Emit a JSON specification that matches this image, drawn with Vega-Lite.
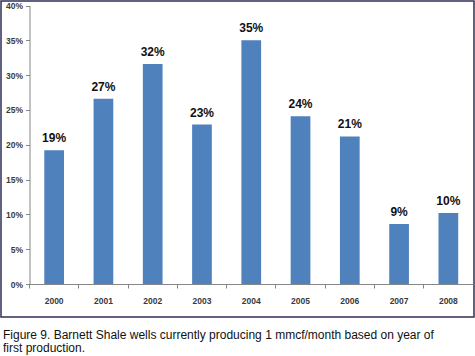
{
  "$schema": "https://vega.github.io/schema/vega-lite/v6.json",
  "width": 473,
  "height": 316,
  "autosize": "none",
  "padding": {"left": 1, "top": 1, "right": 1, "bottom": 39},
  "background": "white",
  "config": {
    "view": {"stroke": "#2E2E5C", "strokeWidth": 1.5},
    "font": "Liberation Sans"
  },
  "title": {
    "text": ["Figure 9. Barnett Shale wells currently producing 1 mmcf/month based on year of", "first production."],
    "orient": "bottom",
    "anchor": "start",
    "frame": "group",
    "offset": 13,
    "dx": 2,
    "fontSize": 12,
    "fontWeight": "normal",
    "font": "Liberation Sans",
    "color": "#111111",
    "lineHeight": 12.5
  },
  "data": {
    "values": [
      {"year": "2000", "value": 0.192, "label": "19%"},
      {"year": "2001", "value": 0.266, "label": "27%"},
      {"year": "2002", "value": 0.316, "label": "32%"},
      {"year": "2003", "value": 0.229, "label": "23%"},
      {"year": "2004", "value": 0.350, "label": "35%"},
      {"year": "2005", "value": 0.241, "label": "24%"},
      {"year": "2006", "value": 0.212, "label": "21%"},
      {"year": "2007", "value": 0.086, "label": "9%"},
      {"year": "2008", "value": 0.102, "label": "10%"}
    ]
  },
  "encoding": {
    "x": {
      "field": "year",
      "type": "nominal",
      "scale": {"range": [28.5, 472], "paddingInner": 0, "paddingOuter": 0},
      "axis": {
        "title": null,
        "orient": "bottom",
        "offset": -33,
        "bandPosition": 0,
        "labelDx": 24.7,
        "labelAngle": 0,
        "labelFontSize": 8.5,
        "labelFontWeight": "bold",
        "labelColor": "#3a3a3a",
        "labelFont": "Liberation Sans",
        "labelPadding": 8,
        "tickSize": 4,
        "tickColor": "#868686",
        "domainColor": "#868686"
      }
    },
    "y": {
      "field": "value",
      "type": "quantitative",
      "scale": {"domain": [0, 0.4], "range": [283, 4.5], "nice": false, "zero": true},
      "axis": {
        "title": null,
        "offset": -28.5,
        "values": [0, 0.05, 0.1, 0.15, 0.2, 0.25, 0.3, 0.35, 0.4],
        "format": ".0%",
        "grid": false,
        "labelFontSize": 8.5,
        "labelFontWeight": "bold",
        "labelColor": "#3a3a3a",
        "labelFont": "Liberation Sans",
        "labelPadding": 3,
        "tickSize": 4,
        "tickColor": "#868686",
        "domainColor": "#868686"
      }
    }
  },
  "layer": [
    {
      "mark": {"type": "bar", "color": "#4F81BD", "width": {"band": 0.4}}
    },
    {
      "mark": {"type": "text", "fontSize": 12, "fontWeight": "bold", "font": "Liberation Sans", "baseline": "bottom", "dy": -5, "color": "#111111"},
      "encoding": {"text": {"field": "label"}}
    }
  ]
}
